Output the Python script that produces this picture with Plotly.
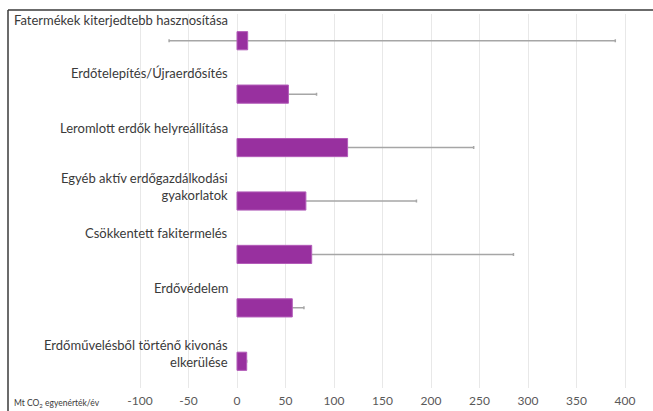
import plotly.graph_objects as go

categories = [
    "Fatermékek kiterjedtebb hasznosítása",
    "Erdőtelepítés/Újraerdősítés",
    "Leromlott erdők helyreállítása",
    "Egyéb aktív erdőgazdálkodási<br>gyakorlatok",
    "Csökkentett fakitermelés",
    "Erdővédelem",
    "Erdőművelésből történő kivonás<br>elkerülése",
]
values = [11, 53, 114, 71, 77, 57, 10]
err_low = [-70, 16, 13, 8, 20, 45, 10]
err_high = [390, 82, 244, 185, 285, 69, 10]
tick_vals = [-100, -50, 0, 50, 100, 150, 200, 250, 300, 350, 400]
tick_text = ["-100", "-50", "0", "50", "100", "150", "200", "250", "300", "350", "400"]
axis_title = "Mt CO<sub>2</sub> egyenérték/év"

pos = list(range(len(categories)))
plus = [h - v for h, v in zip(err_high, values)]
minus = [v - l for v, l in zip(values, err_low)]

W, H = 653, 411
ml, mr, mt, mb = 8, 0, 14, 23
px_per_unit = 0.97
zero_px = 237
x_min = (ml - zero_px) / px_per_unit
x_max = (W - mr - zero_px) / px_per_unit

fig = go.Figure()
fig.add_trace(go.Bar(
    x=values, y=pos, orientation="h", width=0.34,
    marker=dict(color="rgba(0,0,0,0)"),
    error_x=dict(type="data", symmetric=False, array=plus, arrayminus=minus,
                 color="#A6A6A6", thickness=1.5, width=1.5),
    hoverinfo="skip", showlegend=False,
))
fig.add_trace(go.Bar(
    x=values, y=pos, orientation="h", width=0.34,
    marker=dict(color="#98309F", line=dict(color="#B45CB9", width=1)),
    showlegend=False,
))

label_dy = [21, 21, 20, 15, 21, 20, 8]
font_fam = "Lato, 'Open Sans', sans-serif"
for i, (c, dy) in enumerate(zip(categories, label_dy)):
    fig.add_annotation(x=0, y=i, xref="x", yref="y", text=c, showarrow=False,
                       xanchor="right", yanchor="middle", align="right",
                       xshift=-7, yshift=dy,
                       font=dict(family=font_fam, size=13, color="#3A3A3A"))

plot_h = H - mt - mb
def py(p):
    return (H - mb - p) / plot_h
def pxp(p):
    return (p - ml) / (W - ml - mr)

fig.add_annotation(x=pxp(12), y=py(403), xref="paper", yref="paper", text=axis_title,
                   showarrow=False, xanchor="left", yanchor="middle",
                   font=dict(family=font_fam, size=8.5, color="#3A3A3A"))

fig.add_shape(type="line", xref="paper", yref="paper",
              x0=pxp(8), x1=pxp(660), y0=py(10), y1=py(10),
              line=dict(color="#3A3A3A", width=1.5))
fig.add_shape(type="line", xref="paper", yref="paper",
              x0=pxp(8), x1=pxp(8), y0=py(10), y1=py(420),
              line=dict(color="#3A3A3A", width=1.5))

fig.update_layout(
    width=W, height=H,
    margin=dict(l=ml, r=mr, t=mt, b=mb),
    paper_bgcolor="white", plot_bgcolor="white",
    barmode="overlay",
    xaxis=dict(range=[x_min, x_max], tickvals=tick_vals, ticktext=tick_text,
               showgrid=True, gridcolor="#E8E8E8", gridwidth=1,
               zeroline=False, showline=False, ticks="", ticklabelstandoff=4,
               tickfont=dict(family=font_fam, size=12, color="#595959")),
    yaxis=dict(range=[len(categories) - 0.5, -0.5], showgrid=False,
               showticklabels=False, zeroline=False, showline=False, ticks=""),
)
fig.write_html("out.html")
